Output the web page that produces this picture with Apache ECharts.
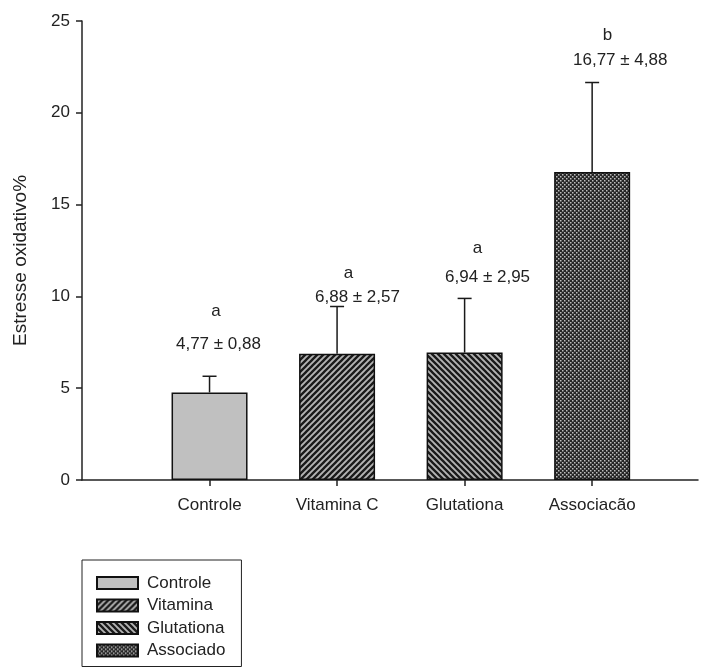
<!DOCTYPE html>
<html>
<head>
<meta charset="utf-8">
<script src="https://cdn.jsdelivr.net/npm/echarts@6/dist/echarts.min.js"></script>
<style>
  html, body { margin: 0; padding: 0; background: #fff; }
  #chart { width: 710px; height: 667px; }
</style>
</head>
<body>
<div id="chart"></div>
<script>
// data
const categories = ["Controle", "Vitamina C", "Glutationa", "Associacão"];
const legendNames = ["Controle", "Vitamina", "Glutationa", "Associado"];
const means = [4.77, 6.88, 6.94, 16.77];
const sds = [0.88, 2.57, 2.95, 4.88];
const letters = ["a", "a", "a", "b"];
const valueLabels = ["4,77 ± 0,88", "6,88 ± 2,57", "6,94 ± 2,95", "16,77 ± 4,88"];
// where the annotation texts were placed in the figure (data units)
const letterX = [1.05, 2.09, 3.1, 4.12];
const letterY = [9.2, 11.27, 12.64, 24.24];
const textX = [1.07, 2.16, 3.18, 4.22];
const textY = [7.41, 9.97, 11.06, 22.88];
const yTicks = [0, 5, 10, 15, 20, 25];

function makePattern(kind) {
  if (kind === "solid") return "#c0c0c0";
  const c = document.createElement("canvas");
  const ctx = c.getContext("2d");
  if (kind === "cross") {
    c.width = 4; c.height = 4;
    ctx.fillStyle = "#262626";
    ctx.fillRect(0, 0, 4, 4);
    ctx.fillStyle = "#bdbdbd";
    ctx.fillRect(0, 0, 1.5, 1.5);
    ctx.fillRect(2, 2, 1.5, 1.5);
    return { image: c, repeat: "repeat" };
  }
  const s = 6;
  c.width = s; c.height = s;
  ctx.fillStyle = "#b4b4b4";
  ctx.fillRect(0, 0, s, s);
  ctx.strokeStyle = "#1a1a1a";
  ctx.lineWidth = 2.3;
  ctx.beginPath();
  if (kind === "fwd") {
    ctx.moveTo(-s, 2 * s); ctx.lineTo(2 * s, -s);
    ctx.moveTo(-s, s); ctx.lineTo(s, -s);
    ctx.moveTo(0, 2 * s); ctx.lineTo(2 * s, 0);
  } else {
    ctx.moveTo(-s, -s); ctx.lineTo(2 * s, 2 * s);
    ctx.moveTo(-s, 0); ctx.lineTo(s, 2 * s);
    ctx.moveTo(0, -s); ctx.lineTo(2 * s, s);
  }
  ctx.stroke();
  return { image: c, repeat: "repeat" };
}

const fills = [makePattern("solid"), makePattern("fwd"), makePattern("back"), makePattern("cross")];
const xPos = [1, 2, 3, 4];
const font = "17px 'Liberation Sans', Arial, sans-serif";

const chart = echarts.init(document.getElementById("chart"));

const barSeries = legendNames.map((name, i) => ({
  name: name,
  type: "bar",
  barWidth: 76,
  barGap: "-100%",
  data: [[xPos[i], means[i]]],
  itemStyle: { color: fills[i], borderColor: "#111", borderWidth: 1.5 },
  silent: true,
  z: 2,
}));

const errSeries = {
  type: "custom",
  silent: true,
  z: 3,
  data: means.map((m, i) => [xPos[i], m, m + sds[i], i]),
  renderItem: function (params, api) {
    const i = api.value(3);
    const base = api.coord([api.value(0), api.value(1)]);
    const top = api.coord([api.value(0), api.value(2)]);
    const la = api.coord([letterX[i], letterY[i]]);
    const lt = api.coord([textX[i], textY[i]]);
    const style = { stroke: "#1a1a1a", lineWidth: 1.5 };
    return {
      type: "group",
      children: [
        { type: "line", shape: { x1: base[0], y1: base[1], x2: top[0], y2: top[1] }, style: style },
        { type: "line", shape: { x1: top[0] - 7, y1: top[1], x2: top[0] + 7, y2: top[1] }, style: style },
        { type: "text", x: la[0], y: la[1], z2: 5,
          style: { text: letters[i], fill: "#222", font: font, align: "center", verticalAlign: "middle" } },
        { type: "text", x: lt[0], y: lt[1], z2: 5,
          style: { text: valueLabels[i], fill: "#222", font: font, align: "center", verticalAlign: "middle" } },
      ],
    };
  },
};

const option = {
  backgroundColor: "#fff",
  animation: false,
  textStyle: { fontFamily: "'Liberation Sans', Arial, sans-serif" },
  grid: { left: 82, right: 12, top: 21, bottom: 187 },
  legend: {
    orient: "vertical",
    left: 82,
    top: 560,
    height: 150,
    data: legendNames,
    icon: "rect",
    itemWidth: 41,
    itemHeight: 12,
    itemGap: 4.5,
    padding: [14, 16, 7, 14],
    borderColor: "#222",
    borderWidth: 1,
    selectedMode: false,
    textStyle: { fontSize: 17, lineHeight: 18, color: "#222", padding: [0, 0, 0, 4] },
  },
  xAxis: {
    type: "value",
    min: 0,
    max: 4.83,
    splitLine: { show: false },
    axisLine: { show: true, lineStyle: { color: "#222", width: 1.5 } },
    axisTick: { show: true, customValues: xPos, length: 6, lineStyle: { color: "#222", width: 1.5 } },
    axisLabel: {
      customValues: xPos,
      formatter: (v) => categories[Math.round(v) - 1] || "",
      fontSize: 17,
      color: "#222",
      margin: 17,
    },
  },
  yAxis: {
    type: "value",
    min: 0,
    max: 25,
    interval: 5,
    name: "Estresse oxidativo%",
    nameLocation: "middle",
    nameGap: 52,
    nameTextStyle: { fontSize: 19, color: "#222", padding: [0, 20, 0, 0] },
    splitLine: { show: false },
    axisLine: { show: true, lineStyle: { color: "#222", width: 1.5 } },
    axisTick: { show: true, length: 6, lineStyle: { color: "#222", width: 1.5 } },
    axisLabel: { fontSize: 17, color: "#222", margin: 12,
      formatter: (v) => (yTicks.indexOf(v) >= 0 ? String(v) : "") },
  },
  series: barSeries.concat([errSeries]),
};

chart.setOption(option);
</script>
</body>
</html>
